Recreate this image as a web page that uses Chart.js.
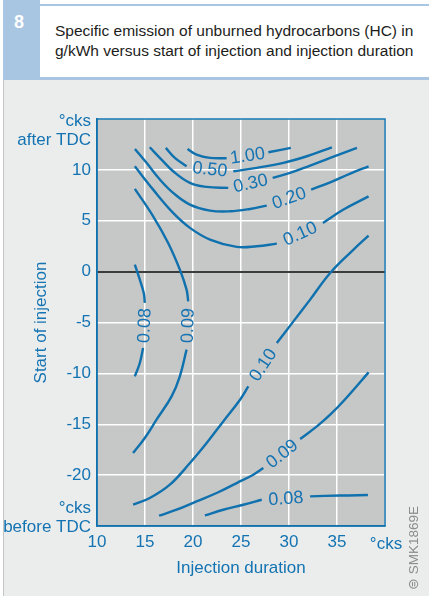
<!DOCTYPE html>
<html>
<head>
<meta charset="utf-8">
<script src="https://cdn.jsdelivr.net/npm/chart.js@4"></script>
<style>
  html, body { margin: 0; padding: 0; background: #ffffff; }
  body { width: 429px; height: 596px; position: relative; overflow: hidden; font-family: "Liberation Sans", Arial, sans-serif; }
  #panel { position: absolute; left: 3px; top: 78px; right: 0; bottom: 0; background: #ebedec; border-left: 1.5px solid #c3c5c5; }
  #numBox { position: absolute; left: 3px; top: 0; width: 37px; height: 80px; background: #a8c5e2; color: #fff; font-weight: bold; font-size: 18px; }
  #numBox span { position: absolute; left: 11px; top: 12px; }
  #titleBox { position: absolute; left: 40px; top: 4px; right: 0; background: #fff; border-top: 2px solid #a8c5e2; border-bottom: 3px solid #a8c5e2; box-sizing: border-box; height: 76px; }
  #titleBox p { margin: 0; position: absolute; left: 15px; top: 15px; font-size: 15.5px; line-height: 20px; color: #1d1d1b; white-space: nowrap; }
  #chartWrap { position: absolute; left: 0; top: 0; width: 429px; height: 596px; }
  #smk { position: absolute; left: 405px; top: 590px; transform-origin: 0 0; transform: rotate(-90deg); font-size: 13.5px; color: #8b8d8d; white-space: nowrap; }
</style>
</head>
<body>
<div id="panel"></div>
<div id="chartWrap"><canvas id="hcChart" width="429" height="596"></canvas></div>
<div id="numBox"><span>8</span></div>
<div id="titleBox"><p>Specific emission of unburned hydrocarbons (HC) in<br>g/kWh versus start of injection and injection duration</p></div>
<div id="smk">⊜ SMK1869E</div>
<script>
// Kurven der HC-Emission (x = Einspritzdauer, y = Einspritzbeginn), null = Lücke für die Beschriftung
const hc100X = [19.43, 20.37, 21.76, 23.5, null, 27.85, 30.19];
const hc100Y = [12.06, 11.5, 11.18, 11.14, null, 11.73, 12.16];

const hc050X = [17.17, 18.11, 19.33, null, 24.2, 26.64, 29.42, 31.86, 34.47];
const hc050Y = [12.16, 11.18, 10.35, null, 9.86, 10.2, 10.69, 11.34, 12.22];

const hc030X = [15.5, 16.72, 17.93, 19.68, 21.42, 23.67, null, 28.3, 30.11, 32.2, 34.29, 37.08];
const hc030Y = [12.22, 11.01, 9.86, 8.72, 8.33, 8.23, null, 9.21, 9.7, 10.42, 11.18, 12.16];

const hc020X = [13.95, 15.16, 16.55, 17.93, 19.68, 21.77, 23.85, 25.94, 27.68, null, 32.31, 34.29, 36.38, 38.29];
const hc020Y = [12.06, 10.69, 9.05, 7.74, 6.59, 6.0, 5.93, 6.16, 6.49, null, 8.06, 8.78, 9.64, 10.35];

const hc010UpperX = [13.94, 15.85, 17.93, 19.68, 21.77, 24.55, 26.64, 28.73, null, 33.53, 35.68, 38.29];
const hc010UpperY = [10.35, 8.06, 5.77, 4.3, 3.15, 2.43, 2.49, 2.75, null, 4.79, 6.1, 7.4];

const hc009LeftX = [13.94, 15.85, 17.41, 18.63, 19.33, 19.5, null, 19.33, 18.63, 17.77, 16.2, 14.98, 13.76];
const hc009LeftY = [8.13, 5.44, 2.82, 0.2, -1.77, -2.92, null, -7.67, -10.29, -12.26, -14.55, -16.35, -17.83];

const hc008LeftX = [13.94, 14.46, 14.87, 14.98, null, 14.8, 14.46, 13.94];
const hc008LeftY = [0.69, -0.79, -2.1, -3.08, null, -7.5, -8.98, -10.29];

const hc010DiagX = [13.76, 15.5, 17.59, 19.68, 21.42, 23.15, 24.9, 25.76, null, 28.73, 30.46, 32.2, 34.29, 36.72, 38.29];
const hc010DiagY = [-22.91, -22.25, -20.94, -18.81, -16.84, -14.72, -12.59, -11.28, null, -7.01, -4.89, -2.75, -0.13, 2.16, 3.54];

const hc009LowerX = [16.47, 18.29, 20.37, 22.46, 24.55, 26.28, 27.33, null, 31.16, 32.9, 34.29, 35.8, 38.29];
const hc009LowerY = [-23.99, -23.4, -22.58, -21.76, -20.78, -19.96, -19.31, null, -16.45, -15.21, -14.06, -12.59, -9.9];

const hc008LowerX = [21.24, 23.15, 25.24, 27.16, null, 32.2, 35.33, 38.22];
const hc008LowerY = [-23.96, -23.4, -22.91, -22.42, null, -22.09, -22.0, -21.96];

const curveLabels = ['1.00', '0.50', '0.30', '0.20', '0.10', '0.09', '0.08', '0.10', '0.09', '0.08'];
const curveXs = [hc100X, hc050X, hc030X, hc020X, hc010UpperX, hc009LeftX, hc008LeftX, hc010DiagX, hc009LowerX, hc008LowerX];
const curveYs = [hc100Y, hc050Y, hc030Y, hc020Y, hc010UpperY, hc009LeftY, hc008LeftY, hc010DiagY, hc009LowerY, hc008LowerY];

// Achsen
const durationMin = 10, durationMax = 40, durationStep = 5;
const startMin = -25, startMax = 15, startStep = 5;

const blue = '#0f71ad';
const textBlue = '#1473b2';
const fontFam = '"Liberation Sans", Arial, sans-serif';

function toPoints(xs, ys) {
    return xs.map((x, i) => ({ x: x, y: ys[i] }));
}

// Plotfläche grau hinterlegen + Rahmen
const plotBackground = {
    id: 'plotBackground',
    beforeDraw(chart) {
        const { ctx, chartArea: a } = chart;
        ctx.save();
        ctx.fillStyle = '#c6c7c7';
        ctx.fillRect(a.left, a.top, a.right - a.left, a.bottom - a.top);
        ctx.restore();
    },
    beforeDatasetsDraw(chart) {
        const { ctx, chartArea: a } = chart;
        ctx.save();
        ctx.strokeStyle = blue;
        ctx.lineWidth = 1.5;
        ctx.strokeRect(a.left, a.top, a.right - a.left, a.bottom - a.top);
        ctx.restore();
    }
};

// Beschriftungen in den Lücken der Kurven
const curveLabelPlugin = {
    id: 'curveLabels',
    afterDatasetsDraw(chart) {
        const ctx = chart.ctx;
        chart.data.datasets.forEach((ds, di) => {
            const gap = ds.data.findIndex(p => p.y === null);
            if (gap < 1) return;
            const meta = chart.getDatasetMeta(di);
            const p1 = meta.data[gap - 1], p2 = meta.data[gap + 1];
            let ang = Math.atan2(p2.y - p1.y, p2.x - p1.x);
            if (ang > Math.PI / 2) ang -= Math.PI;
            if (ang < -Math.PI / 2) ang += Math.PI;
            ctx.save();
            ctx.translate((p1.x + p2.x) / 2, (p1.y + p2.y) / 2);
            ctx.rotate(ang);
            ctx.fillStyle = textBlue;
            ctx.font = '18px ' + fontFam;
            ctx.textAlign = 'center';
            ctx.textBaseline = 'middle';
            ctx.fillText(ds.label, 0, 1);
            ctx.restore();
        });
    }
};

// Einheitenbeschriftungen an den Achsenenden
const unitLabels = {
    id: 'unitLabels',
    afterDraw(chart) {
        const { ctx, scales } = chart;
        const yTop = scales.y.getPixelForValue(startMax);
        const yBot = scales.y.getPixelForValue(startMin);
        const xEnd = scales.x.getPixelForValue(durationMax);
        ctx.save();
        ctx.fillStyle = textBlue;
        ctx.font = '17px ' + fontFam;
        ctx.textBaseline = 'middle';
        ctx.textAlign = 'right';
        ctx.fillText('°cks', 91, yTop + 2);
        ctx.fillText('after TDC', 91, yTop + 21);
        ctx.fillText('°cks', 91, yBot - 18);
        ctx.fillText('before TDC', 91, yBot + 1);
        ctx.textAlign = 'center';
        ctx.fillText('°cks', xEnd + 1, 544);
        ctx.restore();
    }
};

new Chart(document.getElementById('hcChart'), {
    type: 'line',
    data: {
        datasets: curveXs.map((xs, i) => ({
            label: curveLabels[i],
            data: toPoints(xs, curveYs[i]),
            borderColor: blue,
            borderWidth: 2.4,
            pointRadius: 0,
            tension: 0.4,
            spanGaps: false,
            fill: false
        }))
    },
    options: {
        responsive: false,
        animation: false,
        layout: { padding: { top: 119, right: 44, left: 0, bottom: 0 } },
        plugins: { legend: { display: false }, tooltip: { enabled: false } },
        scales: {
            x: {
                type: 'linear',
                min: durationMin,
                max: durationMax,
                afterFit(scale) { scale.height = 70; },
                ticks: {
                    stepSize: durationStep,
                    color: textBlue,
                    font: { size: 17, family: fontFam },
                    padding: 6,
                    maxRotation: 0,
                    callback: v => (v === durationMax ? '' : v)
                },
                grid: { color: '#ffffff', lineWidth: 1.5, drawTicks: false },
                border: { color: blue, width: 1.5 },
                title: {
                    display: true,
                    text: 'Injection duration',
                    color: textBlue,
                    font: { size: 17, family: fontFam },
                    padding: { top: 0, bottom: 17 }
                }
            },
            y: {
                type: 'linear',
                min: startMin,
                max: startMax,
                afterFit(scale) { scale.width = 97; },
                ticks: {
                    stepSize: startStep,
                    color: textBlue,
                    font: { size: 17, family: fontFam },
                    padding: 6,
                    callback: v => (v === startMax || v === startMin ? '' : v)
                },
                grid: {
                    color: c => (c.tick && c.tick.value === 0 ? '#3c3c3c' : '#ffffff'),
                    lineWidth: c => (c.tick && c.tick.value === 0 ? 2 : 1.5),
                    drawTicks: false
                },
                border: { color: blue, width: 1.5 },
                title: {
                    display: true,
                    text: 'Start of injection',
                    color: textBlue,
                    font: { size: 17, family: fontFam },
                    padding: { top: 31, bottom: 0 }
                }
            }
        }
    },
    plugins: [plotBackground, curveLabelPlugin, unitLabels]
});
</script>
</body>
</html>
